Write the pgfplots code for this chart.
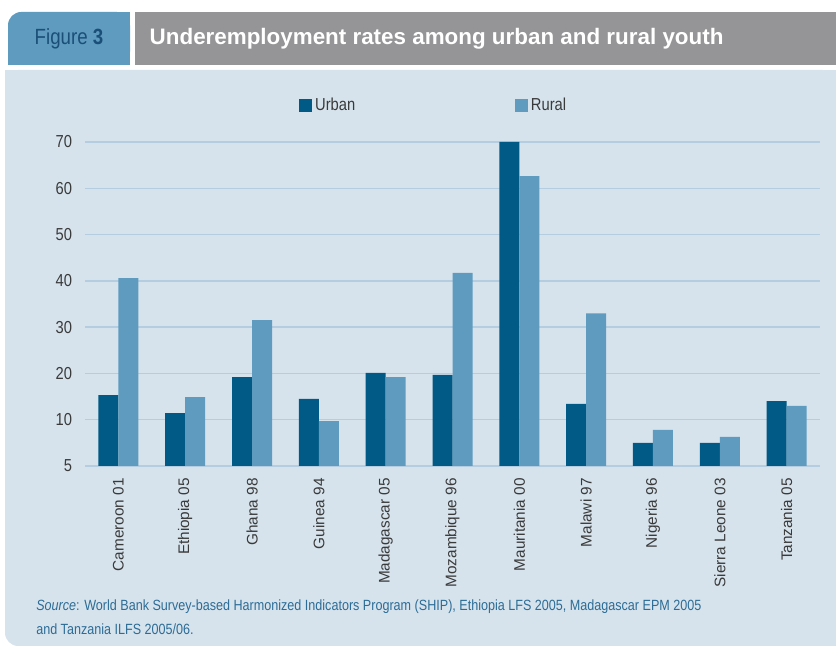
\documentclass[border=0pt]{standalone}
\usepackage{pgfplots}
\pgfplotsset{compat=1.18}
\usepackage{fontspec}
\setmainfont{Liberation Sans}
\newfontfamily\cond[FakeStretch=0.85]{Liberation Sans}
\definecolor{urban}{HTML}{005A85}
\definecolor{rural}{HTML}{5E9BBF}
\definecolor{panel}{HTML}{D6E3EC}
\definecolor{hgray}{HTML}{959597}
\definecolor{gridc}{HTML}{B5CDE0}
\definecolor{srcblue}{HTML}{2C6C96}
\definecolor{figblue}{HTML}{1B4F78}
\definecolor{ticktext}{HTML}{3A3A3A}
\begin{document}
\begin{tikzpicture}
\begin{scope}[x=0.75pt,y=0.75pt]
\useasboundingbox (0,0) rectangle (836,648);
\fill[white] (0,0) rectangle (836,648);
% panel
\fill[panel,rounded corners=10pt] (5,2) rectangle (836,578);
\fill[panel] (5,540) rectangle (40,578);
\fill[panel] (800,2) rectangle (836,578);
% header tab
\fill[rural,rounded corners=10pt] (8,583) rectangle (130,636);
\fill[rural] (8,583) rectangle (40,600);
\fill[rural] (100,583) rectangle (130,636);
\fill[hgray] (135,583) rectangle (836,636);
\node[anchor=center,text=figblue,font=\cond\fontsize{16.5}{18}\selectfont] at (69,609) {Figure \textbf{3}};
\node[anchor=west,text=white,font=\bfseries\fontsize{16.8}{18}\selectfont] at (145,609) {Underemployment rates among urban and rural youth};
% source
\node[anchor=west,text=srcblue,font=\cond\fontsize{11.1}{13}\selectfont,inner sep=0pt] at (36,41) {\textit{Source}: World Bank Survey-based Harmonized Indicators Program (SHIP), Ethiopia LFS 2005, Madagascar EPM 2005};
\node[anchor=west,text=srcblue,font=\cond\fontsize{11.1}{13}\selectfont,inner sep=0pt] at (36,19) {and Tanzania ILFS 2005/06.};
\end{scope}
\begin{axis}[
  at={(63.75pt,136.5pt)}, anchor=south west,
  scale only axis, width=551.25pt, height=243pt,
  ybar=0pt, bar width=15pt,
  xmin=-0.5, xmax=10.5, ymin=0, ymax=70,
  xtick={0,...,10},
  xticklabels={Cameroon 01,Ethiopia 05,Ghana 98,Guinea 94,Madagascar 05,Mozambique 96,Mauritania 00,Malawi 97,Nigeria 96,Sierra Leone 03,Tanzania 05},
  ytick={0,10,...,70},
  yticklabels={5,10,20,30,40,50,60,70},
  /pgf/number format/assume math mode=true,
  axis line style={draw=none},
  major tick length=0pt,
  ymajorgrids, grid style={gridc, line width=1pt},
  xticklabel style={yshift=-9pt, rotate=90, anchor=east, inner sep=0pt, text=ticktext, font=\fontsize{11.5}{12}\selectfont},
  yticklabel style={anchor=east, inner sep=0pt, xshift=-9.5pt, text=ticktext, font=\cond\fontsize{13}{14}\selectfont},
  legend columns=2,
  legend style={at={(0.475,1.114)}, anchor=center, draw=none, fill=none, font=\cond\fontsize{13}{14}\selectfont, text=ticktext,
    /tikz/every even column/.append style={column sep=118pt}},
  legend image code/.code={\fill[#1] (0pt,-4.9pt) rectangle (9.75pt,4.9pt);},
]
\addplot[fill=urban, draw=none] coordinates {(0,15.3) (1,11.4) (2,19.2) (3,14.5) (4,20.1) (5,19.7) (6,70) (7,13.4) (8,5.0) (9,5.0) (10,14.0)};
\addplot[fill=rural, draw=none] coordinates {(0,40.6) (1,14.9) (2,31.5) (3,9.7) (4,19.2) (5,41.7) (6,62.6) (7,33.0) (8,7.8) (9,6.3) (10,13.0)};
\legend{Urban,Rural}
\end{axis}
\end{tikzpicture}
\end{document}
